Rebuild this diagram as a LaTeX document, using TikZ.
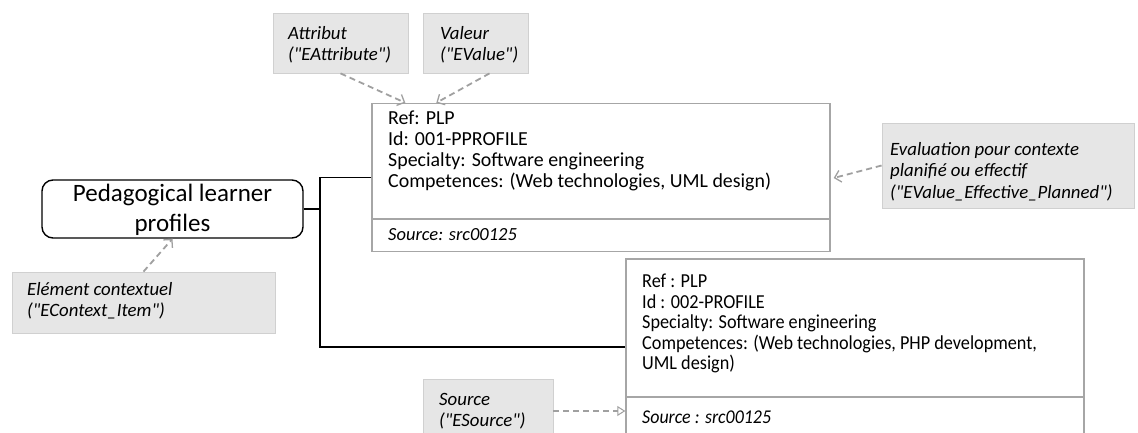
\documentclass[tikz,border=0pt]{standalone}
\usepackage{fontspec}
\setmainfont{Carlito}
\newfontfamily\condfont[FakeStretch=0.92]{Carlito}
\usetikzlibrary{arrows.meta,calc}
\definecolor{boxgray}{HTML}{A6A6A6}
\definecolor{notefill}{HTML}{E6E6E6}
\definecolor{noteline}{HTML}{D0D0D0}
\definecolor{arrowgray}{HTML}{A0A0A0}
\newcommand{\dq}{\textquotedbl}
\tikzset{
  recbox/.style={draw=boxgray, line width=1.4pt, fill=white, inner sep=0pt},
  notebox/.style={draw=noteline, fill=notefill, line width=0.8pt, inner sep=0pt},
  bodytext/.style={anchor=north west, inner sep=0pt, align=left, font=\fontsize{19.9}{21}\selectfont},
  condtext/.style={anchor=north west, inner sep=0pt, align=left, font=\condfont\fontsize{19.8}{20.5}\selectfont},
  notetext/.style={anchor=north west, inner sep=0pt, align=left, font=\fontsize{18.8}{21.5}\selectfont\itshape},
  link/.style={draw=black, line width=1.1pt},
  dasharrow/.style={draw=arrowgray, line width=1.8pt, dash pattern=on 6pt off 4pt, -{Straight Barb[length=6pt,width=12pt,line width=1.3pt]}},
  triarrow/.style={draw=arrowgray, line width=1.8pt, dash pattern=on 6pt off 4pt, -{Triangle[open,length=8pt,width=10pt,line width=1pt]}}
}
\begin{document}
\begin{tikzpicture}[x=1pt,y=-1pt]
\useasboundingbox (0,0) rectangle (1138,433);
\clip (0,0) rectangle (1138,433);
\fill[white] (0,0) rectangle (1138,433);

% main rounded node
\node[draw=black, line width=1.4pt, rounded corners=11pt, minimum width=261pt, minimum height=58pt, inner sep=0pt] (plp) at (172.5,209) {};
\node[inner sep=0pt, align=center, font=\fontsize{25}{30}\selectfont, anchor=north] (plpt) at (172.5,184) {Pedagogical learner\\profiles};

% box 1
\node[recbox, minimum width=458pt, minimum height=148pt] (b1) at (601,177.5) {};
\draw[draw=boxgray, line width=1.2pt] (b1.west |- 0,219) coordinate (d1l) -- (b1.east |- 0,219) coordinate (d1r);
\node[bodytext] (b1t) at (388,111) {Ref: PLP\\Id: 001-PPROFILE\\Specialty: Software engineering\\Competences: (Web technologies, UML design)};
\node[anchor=base west, inner sep=0pt, font=\fontsize{18.5}{21}\selectfont\itshape] (b1s) at (388,240) {Source: src00125};

% box 2
\node[recbox, minimum width=458pt, minimum height=190pt] (b2) at (855,354) {};
\draw[draw=boxgray, line width=1.2pt] (b2.west |- 0,397) coordinate (d2l) -- (b2.east |- 0,397) coordinate (d2r);
\node[condtext] (b2t) at (642,274) {Ref : PLP\\Id : 002-PROFILE\\Specialty: Software engineering\\Competences: (Web technologies, PHP development,\\UML design)};
\node[anchor=base west, inner sep=0pt, font=\condfont\fontsize{19.5}{21}\selectfont\itshape] (b2s) at (642,423) {Source : src00125};

% connectors
\coordinate (jtop) at (b1.west -| 320,0);
\coordinate (jbot) at (320,347);
\draw[link] (b1.west) -- (jtop) -- (jbot) -- (jbot -| b2.west);
\draw[link] (plp.east) -- (plp.east -| jtop);

% note boxes
\node[notebox, minimum width=135pt, minimum height=60pt] (attr) at (340.5,43) {};
\node[notetext] (attrt) at (288,26) {Attribut\\(\dq EAttribute\dq)};
\node[notebox, minimum width=105pt, minimum height=60pt] (val) at (475.5,43) {};
\node[notetext] (valt) at (440,26) {Valeur\\(\dq EValue\dq)};
\node[notebox, minimum width=252pt, minimum height=85pt] (eval) at (1008,165.5) {};
\node[notetext] (evalt) at (890,142) {Evaluation pour contexte\\planifié ou effectif\\(\dq EValue\_Effective\_Planned\dq)};
\node[notebox, minimum width=263pt, minimum height=61pt] (elem) at (143.5,302.5) {};
\node[notetext] (elemt) at (27,282) {Elément contextuel\\(\dq EContext\_Item\dq)};
\node[notebox, minimum width=130pt, minimum height=70pt] (src) at (488,414) {};
\node[notetext] (srct) at (439,393) {Source\\(\dq ESource\dq)};

% dashed arrows
\coordinate (a1e) at ($(b1.north west)+(34,0)$);
\coordinate (a2s) at ($(val.south)+(14,0)$);
\coordinate (a2e) at ($(b1.north west)+(65,0)$);
\coordinate (a3e) at ($(b1.east)+(3,0.5)$);
\coordinate (a5s) at (553,411);
\draw[dasharrow] (attr.south) -- (a1e);
\draw[dasharrow] (a2s) -- (a2e);
\draw[dasharrow] (eval.west) -- (a3e);
\draw[dasharrow] (elem.north) -- (plp.south);
\draw[triarrow] (a5s) -- (a5s -| b2.west);
\end{tikzpicture}
\end{document}
